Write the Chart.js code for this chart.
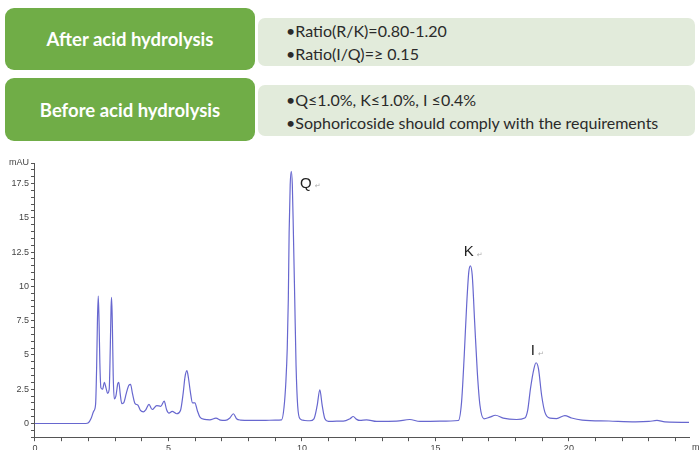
<!DOCTYPE html>
<html>
<head>
<meta charset="utf-8">
<script src="https://cdn.jsdelivr.net/npm/chart.js@4.4.0/dist/chart.umd.min.js"></script>
<style>
  body { margin: 0; width: 699px; height: 450px; overflow: hidden; position: relative; background: #fff; font-family: Lato, "Open Sans", sans-serif; }
  .head { position: absolute; left: 5px; width: 250px; background: #70ad47; border-radius: 9px; color: #fff; font-weight: bold; font-size: 18.5px; display: flex; align-items: center; justify-content: center; }
  .note { position: absolute; left: 258px; width: 437px; background: #e2ebdb; border-radius: 7px; color: #2a2a2a; font-size: 16px; line-height: 23px; padding-left: 28px; box-sizing: border-box; display: flex; flex-direction: column; justify-content: center; }
  #wrap { position: absolute; left: 0; top: 150px; width: 699px; height: 306px; }
</style>
</head>
<body>
<div class="head" id="h1" style="top:8px;height:62px"></div>
<div class="note" id="n1" style="top:18px;height:48px"></div>
<div class="head" id="h2" style="top:78px;height:63px"></div>
<div class="note" id="n2" style="top:85px;height:51px"></div>
<div id="wrap"><canvas id="chart"></canvas></div>
<script>
// header boxes
const headings = ["After acid hydrolysis", "Before acid hydrolysis"];
const afterNotes = ["\u2022Ratio(R/K)=0.80-1.20", "\u2022Ratio(I/Q)=\u2265 0.15"];
const beforeNotes = ["\u2022Q\u22641.0%, K\u22641.0%, I \u22640.4%", "\u2022Sophoricoside should comply with the requirements"];

// chromatogram (min, mAU)
const retentionTimes = [0, 1.0, 1.9, 2.0, 2.1, 2.2, 2.27, 2.31, 2.34, 2.37, 2.40, 2.43, 2.47, 2.53, 2.6, 2.66, 2.72, 2.78, 2.82, 2.85, 2.87, 2.90, 2.93, 2.97, 3.03, 3.1, 3.14, 3.19, 3.25, 3.32, 3.42, 3.52, 3.58, 3.65, 3.75, 3.85, 3.95, 4.06, 4.15, 4.27, 4.39, 4.56, 4.71, 4.84, 4.93, 5.02, 5.14, 5.31, 5.45, 5.55, 5.62, 5.69, 5.75, 5.82, 5.9, 5.99, 6.08, 6.18, 6.35, 6.55, 6.78, 6.95, 7.12, 7.3, 7.43, 7.55, 7.7, 8.05, 8.55, 9.0, 9.24, 9.33, 9.4, 9.45, 9.49, 9.52, 9.56, 9.60, 9.64, 9.68, 9.73, 9.78, 9.84, 9.93, 10.1, 10.3, 10.45, 10.57, 10.67, 10.76, 10.86, 10.99, 11.3, 11.55, 11.8, 11.92, 12.05, 12.17, 12.42, 12.8, 13.55, 14.04, 14.42, 15.17, 15.86, 15.98, 16.08, 16.17, 16.25, 16.31, 16.38, 16.47, 16.57, 16.67, 16.82, 17.04, 17.25, 17.54, 18.04, 18.35, 18.46, 18.56, 18.69, 18.77, 18.86, 18.98, 19.1, 19.29, 19.54, 19.85, 20.1, 20.5, 21.5, 22.5, 23.0, 23.3, 23.6, 24.9];
const absorbance = [0, 0, 0, 0.05, 0.36, 0.9, 1.4, 4.2, 7.6, 9.3, 7.4, 4.4, 2.6, 2.5, 3.0, 2.6, 2.2, 2.5, 5.5, 8.5, 9.2, 7.0, 3.5, 1.8, 2.0, 2.9, 3.0, 2.2, 1.45, 1.5, 2.2, 2.8, 2.85, 2.2, 1.45, 1.35, 0.95, 0.85, 1.0, 1.39, 1.02, 1.31, 1.25, 1.63, 1.0, 0.75, 0.88, 0.71, 0.95, 2.2, 3.4, 3.85, 3.3, 2.3, 1.5, 1.5, 0.95, 0.46, 0.3, 0.27, 0.39, 0.25, 0.22, 0.4, 0.71, 0.35, 0.25, 0.22, 0.22, 0.25, 0.27, 1.2, 3.1, 5.5, 9.1, 13.9, 17.4, 18.4, 17.4, 13.9, 9.1, 4.2, 1.3, 0.34, 0.22, 0.2, 0.34, 1.3, 2.45, 1.3, 0.34, 0.15, 0.17, 0.17, 0.35, 0.51, 0.3, 0.22, 0.27, 0.15, 0.17, 0.29, 0.15, 0.17, 0.22, 1.56, 4.96, 8.61, 11.04, 11.5, 10.8, 7.4, 3.74, 1.31, 0.34, 0.46, 0.6, 0.39, 0.29, 0.4, 1.0, 2.53, 3.99, 4.43, 4.0, 2.04, 0.83, 0.39, 0.36, 0.58, 0.4, 0.25, 0.18, 0.12, 0.15, 0.22, 0.12, 0.08];

// peak labels
const peakNames = ["Q", "K", "I"];
const peakTimes = [10.15, 16.25, 18.65];
const peakHeights = [17.5, 12.5, 5.3];

document.getElementById("h1").textContent = headings[0];
document.getElementById("h2").textContent = headings[1];
afterNotes.forEach(t => { const d = document.createElement("div"); d.textContent = t; document.getElementById("n1").appendChild(d); });
beforeNotes.forEach(t => { const d = document.createElement("div"); d.textContent = t; document.getElementById("n2").appendChild(d); });

const points = retentionTimes.map((t, i) => ({ x: t, y: absorbance[i] }));

const peakLabels = {
    id: "peakLabels",
    afterDatasetsDraw(chart) {
        const ctx = chart.ctx;
        const xs = chart.scales.x, ys = chart.scales.y;
        ctx.save();
        ctx.textBaseline = "middle";
        peakNames.forEach((name, i) => {
            const px = xs.getPixelForValue(peakTimes[i]);
            const py = ys.getPixelForValue(peakHeights[i]);
            ctx.font = "15px 'Liberation Sans', Arial, sans-serif";
            ctx.fillStyle = "#222";
            ctx.textAlign = "center";
            ctx.fillText(name, px, py);
            const w = ctx.measureText(name).width;
            ctx.font = "7px 'DejaVu Sans', sans-serif";
            ctx.fillStyle = "#aaa";
            ctx.textAlign = "left";
            ctx.fillText("\u21b5", px + w / 2 + 3, py + 3);
        });
        // unit on the time axis
        ctx.font = "9px 'Liberation Sans', Arial, sans-serif";
        ctx.fillStyle = "#444";
        ctx.textBaseline = "top";
        ctx.fillText("min", chart.chartArea.right + 3, chart.chartArea.bottom + 6);
        ctx.restore();
    }
};

new Chart(document.getElementById("chart").getContext("2d"), {
    type: "line",
    data: {
        datasets: [{
            data: points,
            borderColor: "#6767cf",
            borderWidth: 1.2,
            pointRadius: 0,
            fill: false,
            cubicInterpolationMode: "monotone"
        }]
    },
    options: {
        responsive: true,
        maintainAspectRatio: false,
        animation: false,
        layout: { padding: { left: 7, top: 13, right: 10, bottom: 0 } },
        plugins: { legend: { display: false }, tooltip: { enabled: false } },
        scales: {
            x: {
                type: "linear",
                min: 0,
                max: 24.5,
                border: { display: true, color: "#555", width: 1 },
                grid: { drawOnChartArea: false, drawTicks: true, tickLength: 4, tickColor: "#555" },
                ticks: {
                    stepSize: 1,
                    autoSkip: false,
                    includeBounds: false,
                    maxRotation: 0,
                    padding: 2,
                    color: "#444",
                    font: { size: 9, family: "'Liberation Sans', Arial, sans-serif" },
                    callback: v => (v % 5 === 0 ? String(v) : "")
                }
            },
            y: {
                min: -1,
                max: 19,
                border: { display: true, color: "#555", width: 1 },
                grid: { drawOnChartArea: false, drawTicks: true, tickLength: 4, tickColor: "#555" },
                ticks: {
                    stepSize: 0.5,
                    autoSkip: false,
                    padding: 2,
                    color: "#444",
                    font: { size: 9, family: "'Liberation Sans', Arial, sans-serif" },
                    callback: v => (v === 19 ? "mAU" : (v >= 0 && v % 2.5 === 0 ? String(v) : ""))
                }
            }
        }
    },
    plugins: [peakLabels]
});
</script>
</body>
</html>
